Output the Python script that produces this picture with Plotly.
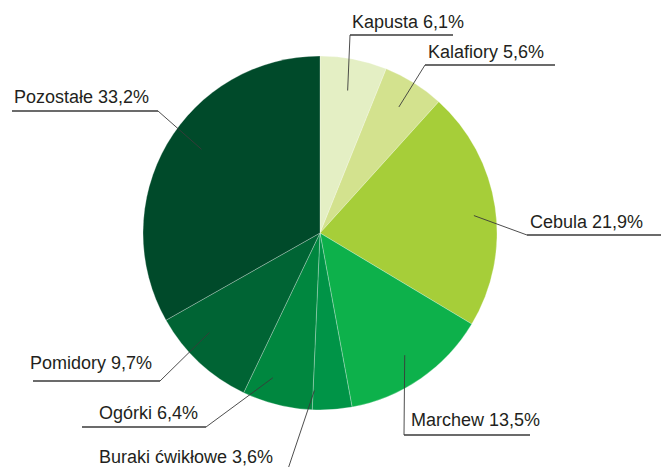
import math
import plotly.graph_objects as go

categories = ["Kapusta", "Kalafiory", "Cebula", "Marchew", "Buraki ćwikłowe", "Ogórki", "Pomidory", "Pozostałe"]
shares = [6.1, 5.6, 21.9, 13.5, 3.6, 6.4, 9.7, 33.2]
colors = ["#e4efc4", "#d3e28e", "#a6ce39", "#0db14b", "#009447", "#00873f", "#006434", "#004a2a"]

W, H = 661, 467
CX, CY, R = 320, 233, 177

# label layout: (underline y, underline x0, x1, join side, text x, text anchor, text centre y, leader radius frac, angle offset deg)
label_layout = [
    (35, 350, 453, "left", 350, "left", 22, 0.82, 0),
    (65, 425, 555, "left", 426, "left", 52, 0.84, 0),
    (235, 527, 661, "left", 528, "left", 222, 0.875, 2),
    (435, 404, 530, "left", 409, "left", 420, 0.84, 0),
    (472, 90, 287, "right", 97, "left", 457, 0.89, 6),
    (427, 82, 206, "right", 97, "left", 413, 0.86, 4),
    (381, 33, 160, "right", 28, "left", 363, 0.84, 5),
    (111, 12, 158, "right", 12, "left", 97, 0.82, 5),
]


def px_(x):
    return x / W


def py_(y):
    return 1 - y / H


fig = go.Figure()
fig.add_trace(go.Pie(
    labels=categories, values=shares, sort=False, direction="clockwise", rotation=0,
    marker=dict(colors=colors, line=dict(color="rgba(255,255,255,0.45)", width=0.6)),
    textinfo="none", hoverinfo="label+percent", showlegend=False,
    domain=dict(x=[(CX - R) / W, (CX + R) / W], y=[1 - (CY + R) / H, 1 - (CY - R) / H]),
))

shapes = []
annotations = []
total = sum(shares)
cum = 0.0
for cat, v, lay in zip(categories, shares, label_layout):
    uy, ux0, ux1, side, tx, tanchor, ty, rf, aoff = lay
    mid = (cum + v / 2) / total * 360 + aoff
    cum += v
    lx = CX + rf * R * math.sin(math.radians(mid))
    ly = CY - rf * R * math.cos(math.radians(mid))
    jx = ux0 if side == "left" else ux1
    shapes.append(dict(type="line", xref="paper", yref="paper", layer="above",
                       x0=px_(lx), y0=py_(ly), x1=px_(jx), y1=py_(uy),
                       line=dict(color="#3a3a3a", width=0.9)))
    shapes.append(dict(type="line", xref="paper", yref="paper", layer="above",
                       x0=px_(ux0), y0=py_(uy), x1=px_(ux1), y1=py_(uy),
                       line=dict(color="#3a3a3a", width=1.4)))
    annotations.append(dict(xref="paper", yref="paper", x=px_(tx), y=py_(ty), xanchor=tanchor, yanchor="middle",
                            text=f"{cat} {str(v).replace('.', ',')}%", showarrow=False,
                            font=dict(family="Liberation Sans, Arial", size=18, color="#231f20")))

fig.update_layout(
    width=W, height=H, margin=dict(l=0, r=0, t=0, b=0),
    paper_bgcolor="white", plot_bgcolor="rgba(0,0,0,0)",
    shapes=shapes, annotations=annotations,
)
fig.write_html("out.html", config={"displayModeBar": False},
               post_script="document.body.style.margin='0';document.body.style.overflow='hidden';")
